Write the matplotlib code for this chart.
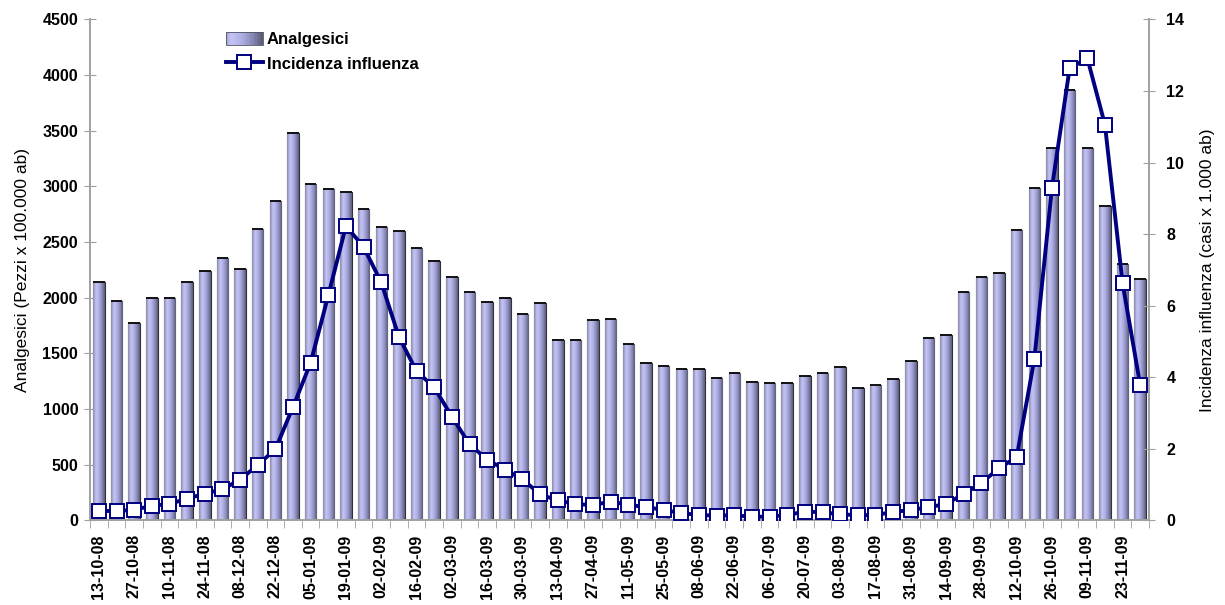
import numpy as np
import matplotlib
matplotlib.use("Agg")
import matplotlib.pyplot as plt
from matplotlib.colors import LinearSegmentedColormap
from matplotlib.patches import Rectangle
from matplotlib.lines import Line2D
from matplotlib.legend_handler import HandlerBase

plt.rcParams['font.family'] = ['Liberation Sans', 'DejaVu Sans']

# settimane (lunedi) da 13-10-08 a 30-11-09
weeks = ["13-10-08", "20-10-08", "27-10-08", "03-11-08", "10-11-08", "17-11-08",
         "24-11-08", "01-12-08", "08-12-08", "15-12-08", "22-12-08", "29-12-08",
         "05-01-09", "12-01-09", "19-01-09", "26-01-09", "02-02-09", "09-02-09",
         "16-02-09", "23-02-09", "02-03-09", "09-03-09", "16-03-09", "23-03-09",
         "30-03-09", "06-04-09", "13-04-09", "20-04-09", "27-04-09", "04-05-09",
         "11-05-09", "18-05-09", "25-05-09", "01-06-09", "08-06-09", "15-06-09",
         "22-06-09", "29-06-09", "06-07-09", "13-07-09", "20-07-09", "27-07-09",
         "03-08-09", "10-08-09", "17-08-09", "24-08-09", "31-08-09", "07-09-09",
         "14-09-09", "21-09-09", "28-09-09", "05-10-09", "12-10-09", "19-10-09",
         "26-10-09", "02-11-09", "09-11-09", "16-11-09", "23-11-09", "30-11-09"]

analgesici = [2145, 1975, 1777, 1996, 1996, 2145, 2244, 2361, 2259, 2618,
              2867, 3483, 3025, 2978, 2953, 2801, 2636, 2598, 2448, 2334,
              2188, 2056, 1963, 1996, 1858, 1957, 1625, 1625, 1799, 1808,
              1586, 1413, 1386, 1364, 1359, 1275, 1326, 1248, 1233, 1233,
              1296, 1326, 1377, 1188, 1218, 1269, 1431, 1637, 1667, 2056,
              2186, 2226, 2609, 2984, 3346, 3866, 3346, 2825, 2305, 2168]

influenza = [0.27, 0.26, 0.30, 0.41, 0.46, 0.61, 0.75, 0.87, 1.14, 1.55,
             1.99, 3.17, 4.41, 6.29, 8.23, 7.64, 6.65, 5.13, 4.17, 3.72,
             2.90, 2.13, 1.70, 1.42, 1.15, 0.73, 0.56, 0.46, 0.43, 0.53,
             0.44, 0.37, 0.30, 0.20, 0.16, 0.13, 0.15, 0.10, 0.11, 0.15,
             0.25, 0.23, 0.17, 0.15, 0.15, 0.24, 0.29, 0.37, 0.46, 0.74,
             1.05, 1.46, 1.77, 4.50, 9.30, 12.63, 12.92, 11.06, 6.63, 3.78]

navy = "#000080"
grey = "#a0a0a0"
bar_cmap = LinearSegmentedColormap.from_list(
    "barre", ["#8a8aa8", "#c4c4f6", "#b0b0e6", "#8c8cbc", "#5c5c78"])

x = np.arange(len(weeks))

fig = plt.figure(figsize=(12.25, 6.05), dpi=100)
ax1 = fig.add_axes([0.0735, 0.1397, 0.8645, 0.8283])
ax2 = ax1.twinx()

bars = ax1.bar(x, analgesici, width=0.65, color="#a0a0d8",
               edgecolor="#303040", linewidth=0.8, zorder=2)
grad = np.linspace(0, 1, 64).reshape(1, -1)
for b in bars:
    x0, y0 = b.get_x(), b.get_y()
    im = ax1.imshow(grad, cmap=bar_cmap, aspect="auto", zorder=2.5,
                    extent=[x0, x0 + b.get_width(), y0, y0 + b.get_height()])
    im.set_clip_path(b)
    # bordo superiore scuro
    ax1.plot([x0, x0 + b.get_width()], [b.get_height()] * 2,
             color="#101010", lw=1.4, zorder=3, solid_capstyle="butt")

ax1.set_xlim(-0.5, len(weeks) - 0.5)
ax1.set_ylim(0, 4500)
ax1.set_yticks(np.arange(0, 4501, 500))
ax1.set_xticks(x[::2])
ax1.set_xticklabels(weeks[::2], rotation=90, fontweight="bold", fontsize=11.5)
ax1.set_xticks(np.arange(-0.5, len(weeks), 1), minor=True)
ax1.tick_params(axis="x", which="major", length=0, pad=10)
ax1.tick_params(axis="x", which="minor", length=6, color=grey, direction="out")
ax1.tick_params(axis="y", direction="inout", length=9, color=grey,
                labelsize=11.5, pad=4)
for t in ax1.get_yticklabels():
    t.set_fontweight("bold")
ax1.set_ylabel("Analgesici (Pezzi x 100.000 ab)", fontsize=12.5, labelpad=9)

ax2.plot(x, influenza, color=navy, lw=2.8, marker="s", markersize=9.5,
         markerfacecolor="white", markeredgecolor=navy, markeredgewidth=1.4,
         zorder=5)
ax2.set_ylim(0, 14)
ax2.set_yticks(np.arange(0, 15, 2))
ax2.tick_params(axis="y", direction="inout", length=9, color=grey,
                labelsize=11.5, pad=8)
for t in ax2.get_yticklabels():
    t.set_fontweight("bold")
ax2.set_ylabel("Incidenza influenza (casi x 1.000 ab)", fontsize=12.5,
               labelpad=11)

for ax in (ax1, ax2):
    ax.spines["top"].set_visible(False)
    for s in ("left", "right", "bottom"):
        ax.spines[s].set_color(grey)
        ax.spines[s].set_linewidth(1.2)


class GradientPatch(HandlerBase):
    def create_artists(self, legend, orig_handle, xdescent, ydescent,
                       width, height, fontsize, trans):
        n = 24
        out = []
        for i in range(n):
            c = bar_cmap(0.15 + 0.85 * i / (n - 1))
            out.append(Rectangle((-xdescent + width * i / n, -ydescent),
                                 width / n + 0.3, height, facecolor=c,
                                 edgecolor="none", transform=trans))
        out.append(Rectangle((-xdescent, -ydescent), width, height,
                             facecolor="none", edgecolor="#505060", lw=0.6,
                             transform=trans))
        return out


bar_handle = Rectangle((0, 0), 1, 1)
line_handle = Line2D([], [], color=navy, lw=2.8, marker="s", markersize=9.5,
                     markerfacecolor="white", markeredgecolor=navy,
                     markeredgewidth=1.4)
leg = fig.legend([bar_handle, line_handle],
                 ["Analgesici", "Incidenza influenza"],
                 handler_map={Rectangle: GradientPatch()},
                 loc="upper left", bbox_to_anchor=(211 / 1225, 1 - 17 / 605),
                 frameon=False, handlelength=2.2, handleheight=0.8,
                 handletextpad=0.25, labelspacing=0.55,
                 prop={"weight": "bold", "size": 12})

fig.savefig("out.png", dpi=100)
